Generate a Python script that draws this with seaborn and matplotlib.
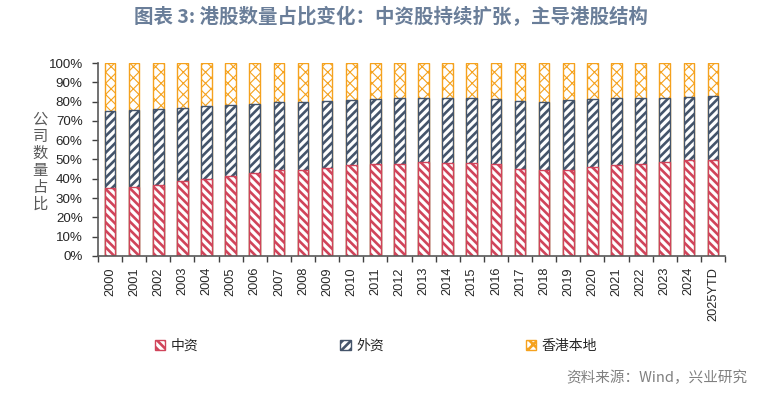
import numpy as np
import pandas as pd
import seaborn as sns
import matplotlib.pyplot as plt
from matplotlib.patches import Patch
from matplotlib.ticker import FuncFormatter

# 年份
years = [str(y) for y in range(2000, 2025)] + ['2025YTD']
# 中资占比 (%)
zhongzi = [35.1, 36.0, 36.7, 38.6, 40.1, 41.3, 42.9, 44.3, 44.6, 45.8, 47.1, 47.8, 47.9,
           48.6, 48.4, 48.4, 47.6, 45.3, 44.5, 44.8, 46.0, 47.1, 47.9, 48.6, 49.5, 49.5]
# 外资占比 (%)
waizi = [39.8, 39.4, 39.4, 38.2, 37.4, 36.9, 35.8, 35.3, 35.0, 34.3, 33.9, 33.3, 33.8,
         33.2, 33.3, 33.3, 33.5, 34.8, 35.3, 36.0, 35.1, 34.6, 33.9, 33.4, 32.9, 33.2]
# 香港本地 = 100 - 中资 - 外资
legend_names = ['中资', '外资', '香港本地']

c_red = '#d0445a'
c_blue = '#44546a'
c_orange = '#f5a21e'

df = pd.DataFrame({'year': years, 'zz': zhongzi, 'wz': waizi})
df['cum_wz'] = df['zz'] + df['wz']
df['cum_all'] = 100.0

sns.set_style('ticks')
plt.rcParams['font.family'] = ['Liberation Sans', 'Noto Sans CJK SC', 'DejaVu Sans']
plt.rcParams['hatch.linewidth'] = 1.9

fig = plt.figure(figsize=(7.81, 3.97), dpi=100)
ax = fig.add_axes([0.1255, 0.3552, 0.8028, 0.4861])

# 从后往前画，叠在一起形成堆积
sns.barplot(data=df, x='year', y='cum_all', color='white', edgecolor=c_orange,
            hatch='xxx', linewidth=1, width=0.44, saturation=1, ax=ax)
n_orange = len(ax.patches)
sns.barplot(data=df, x='year', y='cum_wz', color='white', edgecolor=c_blue,
            hatch='////', linewidth=1, width=0.44, saturation=1, ax=ax)
sns.barplot(data=df, x='year', y='zz', color='white', edgecolor=c_red,
            hatch='\\\\\\\\', linewidth=1, width=0.44, saturation=1, ax=ax)

# 橙色网格线细一些
for p in ax.patches[:n_orange]:
    if hasattr(p, 'set_hatch_linewidth'):
        p.set_hatch_linewidth(0.8)

ax.set_xlim(-0.5, len(years) - 0.5)
ax.set_ylim(0, 100)
ax.set_yticks(np.arange(0, 101, 10))
ax.yaxis.set_major_formatter(FuncFormatter(lambda v, p: '{:.0f}%'.format(v)))
ax.set_xlabel('')
ax.set_ylabel('')
ax.set_xticks(range(len(years)))
ax.set_xticklabels(years, rotation=90, fontsize=9.2, va='top', ha='center')
ax.set_xticks(np.arange(-0.5, len(years), 1), minor=True)
ax.tick_params(axis='x', which='major', length=0, pad=8)
ax.tick_params(axis='x', which='minor', length=4, width=1, color='#404040')
ax.tick_params(axis='y', length=4, width=1, color='#404040', pad=7, labelsize=9.6)
for s in ['left', 'bottom']:
    ax.spines[s].set_color('#595959')
    ax.spines[s].set_linewidth(1.2)
sns.despine(ax=ax)

fig.text(40 / 781, 1 - 162 / 397, '\n'.join('公司数量占比'), ha='center', va='center',
         fontsize=11, linespacing=1.0, color='#595959', family=['Noto Sans CJK SC'])

fig.text(0.5, 1 - 17 / 397, '图表 3: 港股数量占比变化：中资股持续扩张，主导港股结构',
         ha='center', va='center', fontsize=14, fontweight='bold', color='#6a7e99',
         family=['Noto Sans CJK SC'])
fig.text(747 / 781, 1 - 378 / 397, '资料来源：Wind，兴业研究', ha='right', va='center',
         fontsize=10.5, color='#808080', family=['Noto Sans CJK SC'])

handles = [Patch(facecolor='white', edgecolor=c_red, hatch='\\\\\\\\'),
           Patch(facecolor='white', edgecolor=c_blue, hatch='////'),
           Patch(facecolor='white', edgecolor=c_orange, hatch='xxx')]
if hasattr(handles[2], 'set_hatch_linewidth'):
    handles[2].set_hatch_linewidth(0.8)
fig.legend(handles, legend_names, loc='center', bbox_to_anchor=(376 / 781, 1 - 346 / 397),
           ncol=3, frameon=False, handlelength=0.75, handleheight=0.75, handletextpad=0.4,
           columnspacing=10.2, prop={'family': 'Noto Sans CJK SC', 'size': 10})

fig.savefig('out.png', dpi=100)
